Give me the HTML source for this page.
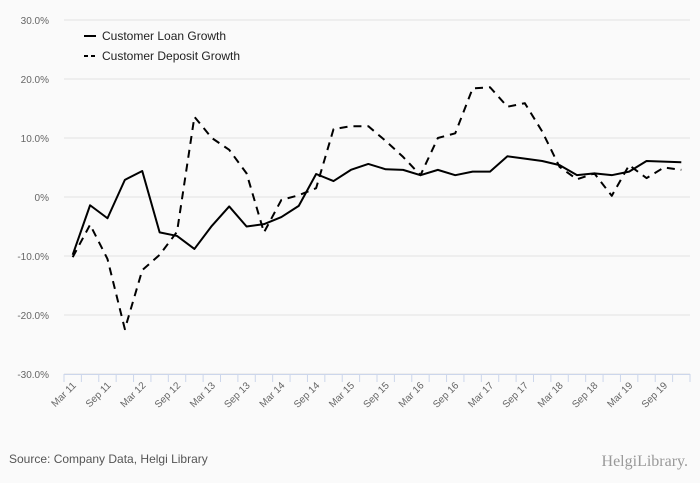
<!DOCTYPE html>
<html><head><meta charset="utf-8"><style>
body{margin:0;background:#fafafa;}
svg{display:block;font-family:"Liberation Sans",sans-serif;}
</style></head><body>
<svg id="chart" width="700" height="483">
<rect width="700" height="483" fill="#fafafa"/>
<g id="grid"></g><g id="xaxis"></g><g id="series"></g>
<g>
<line x1="84" y1="36" x2="96" y2="36" stroke="#000" stroke-width="2"/>
<text x="102" y="40" font-size="12" fill="#222">Customer Loan Growth</text>
<line x1="84" y1="56" x2="96" y2="56" stroke="#000" stroke-width="2" stroke-dasharray="4,3"/>
<text x="102" y="60" font-size="12" fill="#222">Customer Deposit Growth</text>
</g>
<text x="9" y="463" font-size="12" fill="#555">Source: Company Data, Helgi Library</text>
<text x="688" y="466" font-size="16" fill="#999" text-anchor="end" font-family="Liberation Serif,serif">HelgiLibrary.</text>
</svg>
<script>
const categories=["Mar 11","Jun 11","Sep 11","Dec 11","Mar 12","Jun 12","Sep 12","Dec 12","Mar 13","Jun 13","Sep 13","Dec 13","Mar 14","Jun 14","Sep 14","Dec 14","Mar 15","Jun 15","Sep 15","Dec 15","Mar 16","Jun 16","Sep 16","Dec 16","Mar 17","Jun 17","Sep 17","Dec 17","Mar 18","Jun 18","Sep 18","Dec 18","Mar 19","Jun 19","Sep 19","Dec 19"];
const loanGrowth=[-9.8,-1.4,-3.6,2.9,4.4,-6.0,-6.6,-8.8,-4.9,-1.6,-5.0,-4.6,-3.4,-1.5,3.9,2.7,4.6,5.6,4.7,4.6,3.7,4.6,3.7,4.3,4.3,6.9,6.5,6.1,5.4,3.7,4.0,3.7,4.3,6.1,6.0,5.9];
const depositGrowth=[-10.2,-4.7,-10.5,-22.4,-12.4,-9.8,-5.9,13.6,10.0,8.0,4.0,-6.0,-0.5,0.3,1.5,11.5,12.0,12.0,9.5,6.8,3.7,10.0,10.8,18.4,18.6,15.3,15.9,11.1,5.1,3.0,4.0,0.2,5.4,3.2,5.0,4.6];
const yTicks=[30,20,10,0,-10,-20,-30];
const yTickLabels=["30.0%","20.0%","10.0%","0%","-10.0%","-20.0%","-30.0%"];
const NS="http://www.w3.org/2000/svg";
const X0=64,X1=690,band=(X1-X0)/categories.length;
const xs=i=>X0+band*(i+0.5);
const ys=v=>197-v*5.9;
function mk(t,a,p){const e=document.createElementNS(NS,t);for(const k in a)e.setAttribute(k,a[k]);p.appendChild(e);return e;}
const grid=document.getElementById('grid');
yTicks.forEach((v,i)=>{
 const l=mk('line',{x1:X0,x2:X1,y1:ys(v),y2:ys(v),stroke:'#e2e2e2','stroke-width':1},grid);
 
 
 const t=mk('text',{x:49,y:ys(v)+4,'font-size':10,fill:'#666','text-anchor':'end'},grid);
 t.textContent=yTickLabels[i];
 
 
});
const xa=document.getElementById('xaxis');
const ax=mk('line',{x1:X0,x2:X1,y1:374.5,y2:374.5,stroke:'#ccd6eb'},xa);


for(let i=0;i<=categories.length;i++){
 const x=X0+band*i;
 const tk=mk('line',{x1:x,x2:x,y1:374,y2:382,stroke:'#ccd6eb'},xa);
 
 
}
categories.forEach((c,i)=>{
 if(i%2)return;
 const x=xs(i)+4,y=386;
 const t=mk('text',{x:x,y:y,'font-size':10,fill:'#666','text-anchor':'end',transform:`rotate(-45 ${x} ${y})`},xa);
 t.textContent=c;
 
 
});
const sg=document.getElementById('series');
function line(data,dash,name){
 const p=mk('polyline',{points:data.map((v,i)=>xs(i)+','+ys(v)).join(' '),fill:'none',stroke:'#000','stroke-width':2,'stroke-linejoin':'round'},sg);
 if(dash)p.setAttribute('stroke-dasharray',dash);
 
 
}
line(depositGrowth,'8,6','deposit-growth-line');
line(loanGrowth,null,'loan-growth-line');
</script>
</body></html>
